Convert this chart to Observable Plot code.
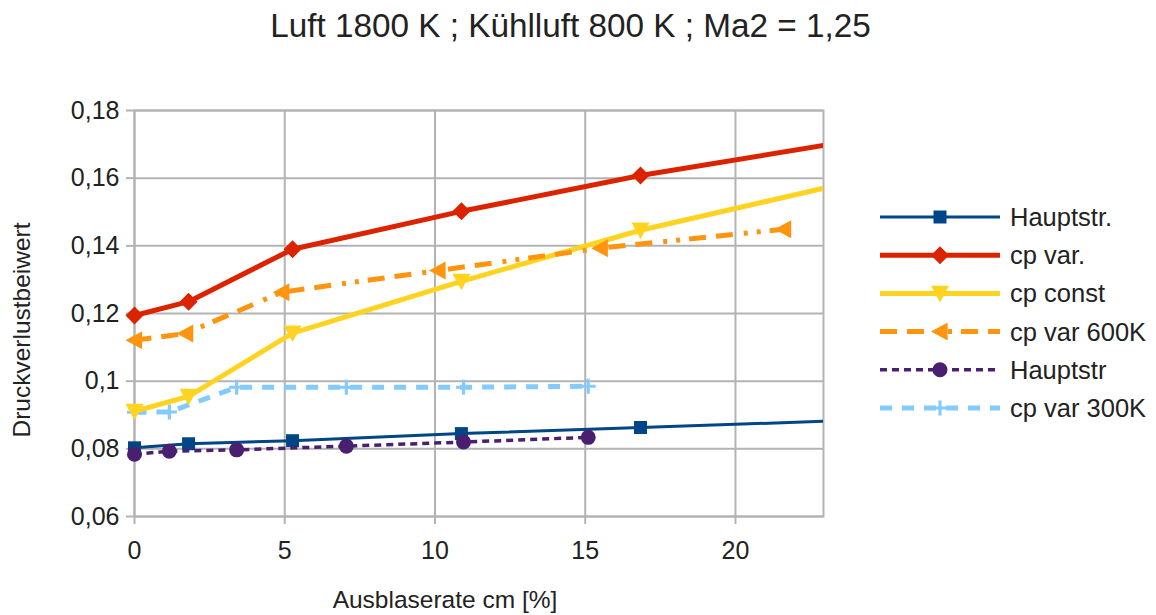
<!DOCTYPE html>
<html>
<head>
<meta charset="utf-8">
<script src="https://cdn.jsdelivr.net/npm/d3@7"></script>
<script src="https://cdn.jsdelivr.net/npm/@observablehq/plot@0.6"></script>
<style>
  body { margin: 0; background: #fff; font-family: "Liberation Sans", Arial, sans-serif; color: #222; }
  #chart { position: relative; width: 1156px; height: 615px; overflow: hidden; }
  #title { position: absolute; left: 0; top: 7px; width: 1141px; text-align: center; font-size: 33.3px; white-space: nowrap; }
  #xlabel { position: absolute; left: 245px; width: 400px; top: 586px; text-align: center; font-size: 24.5px; white-space: nowrap; }
  #ylabel { position: absolute; left: 22px; top: 330px; font-size: 24.5px; white-space: nowrap;
            transform: translate(-50%, -50%) rotate(-90deg); }
  #legend { position: absolute; left: 0; top: 0; }
</style>
</head>
<body>
<div id="chart">
  <div id="plot"></div>
  <div id="title">Luft 1800 K ; Kühlluft 800 K ; Ma2 = 1,25</div>
  <div id="ylabel">Druckverlustbeiwert</div>
  <div id="xlabel">Ausblaserate cm [%]</div>
  <svg id="legend" width="1156" height="615"></svg>
</div>
<script>
// Axis ticks
const xTicks = [0, 5, 10, 15, 20];
const yTicks = [0.06, 0.08, 0.1, 0.12, 0.14, 0.16, 0.18];
const yTickLabels = ["0,06", "0,08", "0,1", "0,12", "0,14", "0,16", "0,18"];

// Blowing rate cm [%] per measurement series
const rateA = [0, 1.8, 5.26, 10.88, 16.84, 23.5];
const rate600 = [0, 1.7, 4.9, 10.1, 15.5, 21.6];
const rateB = [0, 1.16, 3.4, 7.05, 10.95, 15.1];

// Pressure loss coefficient
const hauptstrA = [0.0803, 0.0815, 0.0824, 0.0845, 0.0863, 0.0883];
const cpVar = [0.1194, 0.1235, 0.1390, 0.1502, 0.1608, 0.1705];
const cpConst = [0.0911, 0.0955, 0.1142, 0.1295, 0.1446, 0.1582];
const cpVar600 = [0.1121, 0.1141, 0.1263, 0.1327, 0.1393, 0.1449];
const hauptstrB = [0.0784, 0.0793, 0.0797, 0.0808, 0.0820, 0.0834];
const cpVar300 = [0.0908, 0.0909, 0.0982, 0.0982, 0.0982, 0.0985];

const seriesNames = ["Hauptstr.", "cp var.", "cp const", "cp var 600K", "Hauptstr", "cp var 300K"];

const xMax = 22.93;

// Marker shapes drawn inside a box of half-size r (Plot passes size = π·r²)
const half = s => Math.sqrt(s / Math.PI);
const symSquare = { draw(c, s) { const r = half(s); c.rect(-r, -r, 2 * r, 2 * r); } };
const symDiamond = { draw(c, s) { const r = half(s); c.moveTo(0, -r); c.lineTo(r, 0); c.lineTo(0, r); c.lineTo(-r, 0); c.closePath(); } };
const symTriDown = { draw(c, s) { const r = half(s); c.moveTo(-r, -r * 0.85); c.lineTo(r, -r * 0.85); c.lineTo(0, r); c.closePath(); } };
const symTriLeft = { draw(c, s) { const r = half(s); c.moveTo(-r, 0); c.lineTo(r * 0.85, -r); c.lineTo(r * 0.85, r); c.closePath(); } };
const symCircle = { draw(c, s) { const r = half(s); c.moveTo(r, 0); c.arc(0, 0, r, 0, 2 * Math.PI); c.closePath(); } };
const symPlus = { draw(c, s) { const r = half(s), t = r * 0.42; c.rect(-r, -t / 2, 2 * r, t); c.rect(-t / 2, -r, t, 2 * r); } };

const styles = [
  { color: "#004586", width: 3, dash: null, symbol: symSquare, r: 6.5 },
  { color: "#dc2300", width: 5, dash: null, symbol: symDiamond, r: 9 },
  { color: "#ffd320", width: 5, dash: null, symbol: symTriDown, r: 9 },
  { color: "#ff950e", width: 5, dash: "17,10,17,11,4,9,4,9", symbol: symTriLeft, r: 9 },
  { color: "#4b1f6f", width: 3.5, dash: "7,5", symbol: symCircle, r: 7.5 },
  { color: "#83caff", width: 5, dash: "12,10", symbol: symPlus, r: 7.5 }
];

const rows = (xs, ys) => xs.map((x, i) => ({ x, y: ys[i] }));
const seriesData = [
  rows(rateA, hauptstrA),
  rows(rateA, cpVar),
  rows(rateA, cpConst),
  rows(rate600, cpVar600),
  rows(rateB, hauptstrB),
  rows(rateB, cpVar300)
];

// Stacking order of the series on the canvas (light blue sits under the yellow one)
const drawOrder = [0, 1, 5, 2, 3, 4];

const grid = "#b3b3b3";
const seriesMarks = drawOrder.flatMap(i => {
  const s = styles[i], data = seriesData[i];
  return [
    Plot.line(data, { x: "x", y: "y", stroke: s.color, strokeWidth: s.width, strokeDasharray: s.dash,
                      strokeLinecap: "butt", strokeLinejoin: "round", clip: true }),
    Plot.dot(data, { x: "x", y: "y", filter: d => d.x <= xMax, symbol: s.symbol, r: s.r, fill: s.color, stroke: null })
  ];
});

const chart = Plot.plot({
  width: 1156,
  height: 615,
  marginLeft: 134,
  marginRight: 1156 - 823,
  marginTop: 110,
  marginBottom: 615 - 516,
  style: { fontFamily: "'Liberation Sans', Arial, sans-serif", fontSize: "25px", color: "#222", background: "transparent" },
  x: { domain: [0, xMax] },
  y: { domain: [0.06, 0.18] },
  marks: [
    Plot.gridX(xTicks, { stroke: grid, strokeOpacity: 1, strokeWidth: 2 }),
    Plot.gridY(yTicks, { stroke: grid, strokeOpacity: 1, strokeWidth: 2 }),
    Plot.frame({ stroke: grid, strokeWidth: 2 }),
    Plot.axisX({ ticks: xTicks, tickSize: 8, tickPadding: 17, stroke: grid, strokeWidth: 2, fill: "#222", label: null }),
    Plot.axisY({ ticks: yTicks, tickFormat: d => yTickLabels[yTicks.indexOf(d)], tickSize: 8, tickPadding: 7,
                 stroke: grid, strokeWidth: 2, fill: "#222", label: null }),
    ...seriesMarks
  ]
});
document.getElementById("plot").appendChild(chart);

// Legend
const legend = d3.select("#legend");
seriesNames.forEach((name, i) => {
  const s = styles[i];
  const y = 217 + i * 38.2;
  const g = legend.append("g").attr("transform", `translate(0,${y})`);
  g.append("line").attr("x1", 880).attr("x2", 1000).attr("y1", 0).attr("y2", 0)
    .attr("stroke", s.color).attr("stroke-width", s.width)
    .attr("stroke-dasharray", s.dash).attr("stroke-linecap", "butt");
  g.append("path").attr("transform", "translate(940,0)")
    .attr("d", d3.symbol(s.symbol, Math.PI * s.r * s.r)()).attr("fill", s.color);
  g.append("text").attr("x", 1010).attr("y", 0).attr("dy", "0.35em")
    .attr("font-family", "'Liberation Sans', Arial, sans-serif").attr("font-size", 25.5).attr("fill", "#222")
    .text(name);
});
</script>
</body>
</html>
